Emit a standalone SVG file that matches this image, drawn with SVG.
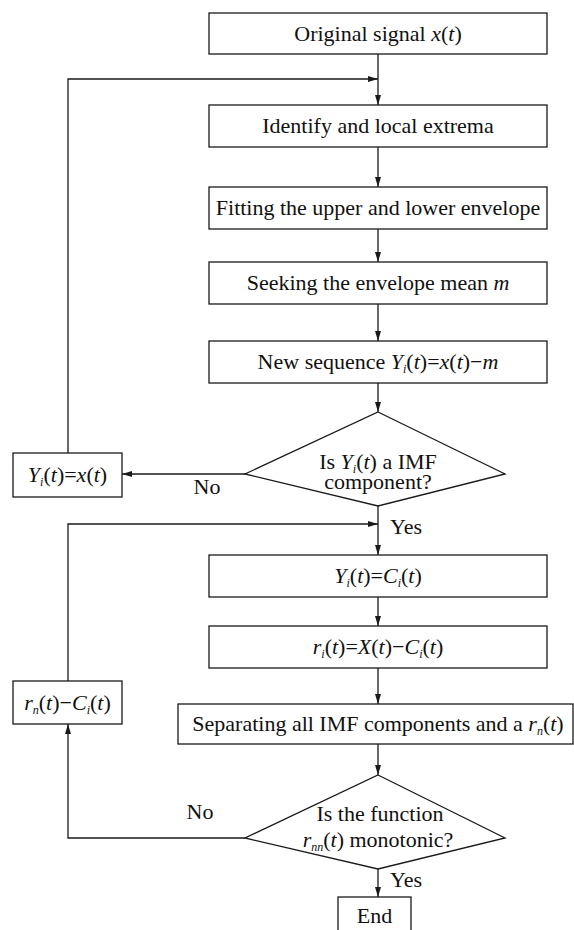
<svg xmlns="http://www.w3.org/2000/svg" width="574" height="930" viewBox="0 0 574 930">
<defs>
<marker id="ah" markerWidth="10" markerHeight="6" refX="10" refY="3" orient="auto" markerUnits="userSpaceOnUse">
<path d="M0,0 L10,3 L0,6 Z" fill="#1a1a1a"/>
</marker>
<style>
.b{fill:#fff;stroke:#1a1a1a;stroke-width:1.3}
.t{font-family:"Liberation Serif","Times New Roman",serif;font-size:22px;fill:#111;text-anchor:middle}
.l{font-family:"Liberation Serif","Times New Roman",serif;font-size:22px;fill:#111}
.c{fill:none;stroke:#1a1a1a;stroke-width:1.3}
.i{font-style:italic}
.s{font-size:12px;font-style:italic}
</style>
</defs>
<rect width="574" height="930" fill="#fff"/>
<g id="connectors">
<path class="c" d="M378,54 V105" marker-end="url(#ah)"/>
<path class="c" d="M68,453 V79 H378" marker-end="url(#ah)"/>
<path class="c" d="M378,147 V187" marker-end="url(#ah)"/>
<path class="c" d="M378,229 V262" marker-end="url(#ah)"/>
<path class="c" d="M378,304 V341" marker-end="url(#ah)"/>
<path class="c" d="M378,383 V412" marker-end="url(#ah)"/>
<path class="c" d="M245,474 H122" marker-end="url(#ah)"/>
<path class="c" d="M378,506 V555" marker-end="url(#ah)"/>
<path class="c" d="M68,681 V524 H378" marker-end="url(#ah)"/>
<path class="c" d="M378,597 V626" marker-end="url(#ah)"/>
<path class="c" d="M378,668 V704" marker-end="url(#ah)"/>
<path class="c" d="M378,744 V775" marker-end="url(#ah)"/>
<path class="c" d="M245,838 H68 V724" marker-end="url(#ah)"/>
<path class="c" d="M378,869 V897" marker-end="url(#ah)"/>
<text class="l" x="207" y="494" text-anchor="middle">No</text>
<text class="l" x="200" y="819" text-anchor="middle">No</text>
<text class="l" x="390" y="534">Yes</text>
<text class="l" x="390" y="887">Yes</text>
</g>
<g id="n1"><rect class="b" x="209" y="13" width="338" height="41"/>
<text class="t" x="378" y="41">Original signal <tspan class="i">x</tspan>(<tspan class="i">t</tspan>)</text></g>
<g id="n2"><rect class="b" x="209" y="105" width="338" height="42"/>
<text class="t" x="378" y="133">Identify and local extrema</text></g>
<g id="n3"><rect class="b" x="209" y="187" width="338" height="42"/>
<text class="t" x="378" y="215">Fitting the upper and lower envelope</text></g>
<g id="n4"><rect class="b" x="209" y="262" width="338" height="42"/>
<text class="t" x="378" y="290">Seeking the envelope mean <tspan class="i">m</tspan></text></g>
<g id="n5"><rect class="b" x="209" y="341" width="338" height="42"/>
<text class="t" x="378" y="369">New sequence <tspan class="i">Y</tspan><tspan class="s" dy="4">i</tspan><tspan dy="-4">(</tspan><tspan class="i">t</tspan>)=<tspan class="i">x</tspan>(<tspan class="i">t</tspan>)−<tspan class="i">m</tspan></text></g>
<g id="d1"><polygon class="b" points="378,412 505,474 378,506 245,474"/>
<text class="t" x="378" y="469">Is <tspan class="i">Y</tspan><tspan class="s" dy="4">i</tspan><tspan dy="-4">(</tspan><tspan class="i">t</tspan>) a IMF</text>
<text class="t" x="378" y="489">component?</text></g>
<g id="n6"><rect class="b" x="13" y="453" width="109" height="44"/>
<text class="t" x="67.5" y="482"><tspan class="i">Y</tspan><tspan class="s" dy="4">i</tspan><tspan dy="-4">(</tspan><tspan class="i">t</tspan>)=<tspan class="i">x</tspan>(<tspan class="i">t</tspan>)</text></g>
<g id="n7"><rect class="b" x="209" y="555" width="338" height="42"/>
<text class="t" x="378" y="583"><tspan class="i">Y</tspan><tspan class="s" dy="4">i</tspan><tspan dy="-4">(</tspan><tspan class="i">t</tspan>)=<tspan class="i">C</tspan><tspan class="s" dy="4">i</tspan><tspan dy="-4">(</tspan><tspan class="i">t</tspan>)</text></g>
<g id="n8"><rect class="b" x="209" y="626" width="338" height="42"/>
<text class="t" x="378" y="654"><tspan class="i">r</tspan><tspan class="s" dy="4">i</tspan><tspan dy="-4">(</tspan><tspan class="i">t</tspan>)=<tspan class="i">X</tspan>(<tspan class="i">t</tspan>)−<tspan class="i">C</tspan><tspan class="s" dy="4">i</tspan><tspan dy="-4">(</tspan><tspan class="i">t</tspan>)</text></g>
<g id="n9"><rect class="b" x="13" y="681" width="109" height="43"/>
<text class="t" x="67.5" y="710"><tspan class="i">r</tspan><tspan class="s" dy="4">n</tspan><tspan dy="-4">(</tspan><tspan class="i">t</tspan>)−<tspan class="i">C</tspan><tspan class="s" dy="4">i</tspan><tspan dy="-4">(</tspan><tspan class="i">t</tspan>)</text></g>
<g id="n10"><rect class="b" x="178" y="704" width="395" height="40"/>
<text class="t" x="378" y="731">Separating all IMF components and a <tspan class="i">r</tspan><tspan class="s" dy="4">n</tspan><tspan dy="-4">(</tspan><tspan class="i">t</tspan>)</text></g>
<g id="d2"><polygon class="b" points="378,775 505,838 378,869 245,838"/>
<text class="t" x="380" y="821">Is the function</text>
<text class="t" x="378" y="847"><tspan class="i">r</tspan><tspan class="s" dy="4">nn</tspan><tspan dy="-4">(</tspan><tspan class="i">t</tspan>) monotonic?</text></g>
<g id="n11"><rect class="b" x="338" y="897" width="73" height="40"/>
<text class="t" x="374.5" y="923">End</text></g>
</svg>
